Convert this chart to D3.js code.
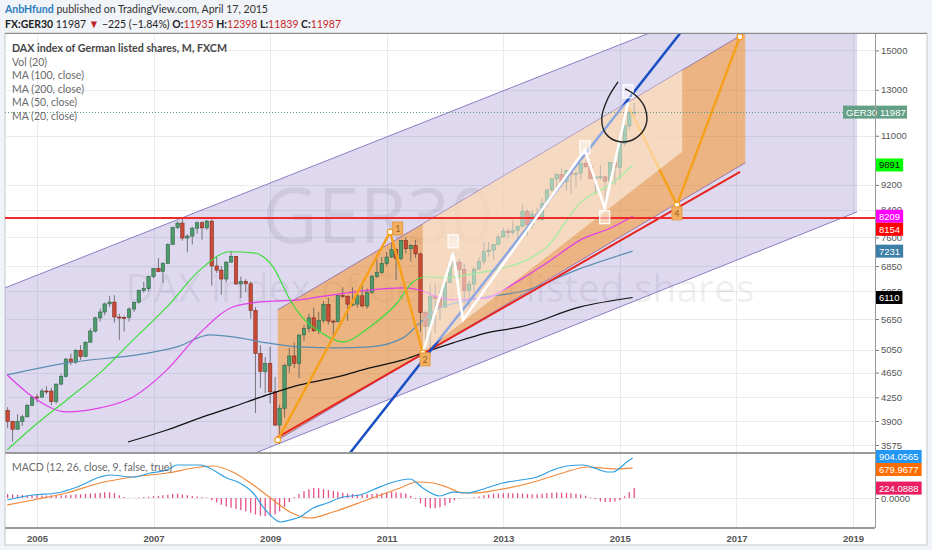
<!DOCTYPE html>
<html>
<head>
<meta charset="utf-8">
<script src="https://cdn.jsdelivr.net/npm/d3@7"></script>
<style>
  body { margin: 0; background: #f0f3f7; }
  svg { display: block; font-family: Lato, "Open Sans", sans-serif; }
</style>
</head>
<body>
<svg id="chart" width="932" height="550"></svg>
<script>

// monthly candles, first one is July 2004
const firstMonth = [2004, 6];

const opens = [
  4052, 3895, 3785, 3893, 3960, 4126,
  4256, 4254, 4350, 4349, 4184, 4460, 4586, 4886, 4829, 5044, 4929, 5193,
  5408, 5674, 5796, 5970, 6009, 5692, 5683, 5681, 5859, 6004, 6269, 6309,
  6597, 6789, 6716, 6917, 7409, 7883, 8007, 7584, 7638, 7862, 8019, 7871,
  8067, 6852, 6748, 6535, 6949, 7097, 6418, 6479, 6422, 5831, 4988, 4669,
  4810, 4338, 3843, 4085, 4770, 4941, 4809, 5332, 5458, 5675, 5415, 5625,
  5957, 5608, 5598, 6154, 6136, 5964, 5966, 6148, 5925, 6229, 6601, 6688,
  6914, 7077, 7272, 7041, 7514, 7294, 7376, 7159, 5785, 5502, 6141, 6089,
  5898, 6458, 6856, 6947, 6761, 6264, 6416, 6772, 6970, 7216, 7260, 7405,
  7612, 7776, 7742, 7795, 7914, 8349, 7959, 8276, 8103, 8594, 9033, 9406,
  9552, 9306, 9692, 9556, 9603, 9943, 9833, 9407, 9470, 9474, 9327, 9980,
  9806, 10694, 11402, 11935
];
const highs = [
  4102, 3905, 4000, 3990, 4150, 4272,
  4300, 4390, 4430, 4400, 4470, 4630, 4900, 4980, 5060, 5140, 5210, 5460,
  5700, 5870, 6000, 6150, 6160, 5760, 5720, 5900, 6020, 6290, 6470, 6620,
  6800, 7050, 6950, 7440, 7900, 8060, 8150, 7690, 7900, 8050, 8060, 8100,
  8110, 7090, 6850, 6960, 7230, 7110, 6590, 6530, 6480, 5900, 5140, 4920,
  5110, 4580, 4140, 4800, 5090, 5190, 5330, 5530, 5760, 5890, 5800, 6030,
  6100, 5640, 6170, 6340, 6160, 6340, 6230, 6390, 6310, 6640, 7030, 7080,
  7210, 7440, 7300, 7530, 7600, 7420, 7530, 7190, 5830, 6400, 6430, 6280,
  6540, 6940, 7190, 7020, 6900, 6500, 6820, 7080, 7480, 7480, 7410, 7680,
  7870, 7860, 8080, 7940, 8560, 8420, 8400, 8470, 8770, 9050, 9410, 9600,
  9800, 9720, 9750, 9640, 9960, 10050, 10030, 9480, 9890, 9520, 10000, 10090,
  10810, 11420, 12220, 12398
];
const lows = [
  3800, 3618, 3785, 3830, 3950, 4120,
  4170, 4250, 4300, 4130, 4150, 4440, 4570, 4780, 4800, 4870, 4920, 5190,
  5380, 5600, 5730, 5900, 5580, 5240, 5400, 5600, 5800, 5980, 6220, 6250,
  6550, 6700, 6440, 6900, 7400, 7830, 7510, 7200, 7410, 7700, 7540, 7810,
  6380, 6680, 6170, 6460, 6930, 6400, 6100, 6230, 5660, 4015, 4400, 4320,
  4160, 3830, 3589, 3950, 4640, 4730, 4560, 5220, 5380, 5390, 5350, 5570,
  5540, 5300, 5580, 6100, 5610, 5920, 5890, 5900, 5870, 6190, 6560, 6660,
  6850, 7050, 6510, 6990, 7170, 6960, 7060, 5400, 4960, 4970, 5370, 5620,
  5900, 6450, 6790, 6540, 5990, 5910, 6240, 6760, 6880, 7090, 7010, 7400,
  7600, 7580, 7660, 7420, 7900, 7650, 7860, 8100, 8100, 8480, 8970, 9120,
  9260, 9020, 8910, 9120, 9380, 9770, 9400, 8900, 9370, 8350, 9220, 9220,
  9380, 10590, 11250, 11839
];
const closes = [
  3895, 3785, 3893, 3960, 4126, 4256,
  4254, 4350, 4349, 4184, 4460, 4586, 4886, 4829, 5044, 4929, 5193, 5408,
  5674, 5796, 5970, 6009, 5692, 5683, 5681, 5859, 6004, 6269, 6309, 6597,
  6789, 6716, 6917, 7409, 7883, 8007, 7584, 7638, 7862, 8019, 7871, 8067,
  6852, 6748, 6535, 6949, 7097, 6418, 6479, 6422, 5831, 4988, 4669, 4810,
  4338, 3843, 4085, 4770, 4941, 4809, 5332, 5458, 5675, 5415, 5625, 5957,
  5608, 5598, 6154, 6136, 5964, 5966, 6148, 5925, 6229, 6601, 6688, 6914,
  7077, 7272, 7041, 7514, 7294, 7376, 7159, 5785, 5502, 6141, 6089, 5898,
  6458, 6856, 6947, 6761, 6264, 6416, 6772, 6970, 7216, 7260, 7405, 7612,
  7776, 7742, 7795, 7914, 8349, 7959, 8276, 8103, 8594, 9033, 9406, 9552,
  9306, 9692, 9556, 9603, 9943, 9833, 9407, 9470, 9474, 9327, 9980, 9806,
  10694, 11402, 11966, 11987
];

// moving averages, [decimal year, price]
const ma20 = [[2004.49,3511],[2004.93,3817],[2005.51,4211],[2006.08,4645],[2006.65,5237],[2007.23,5904],
  [2007.80,6755],[2008.31,7215],[2008.71,7188],[2009.05,6830],[2009.34,6059],[2009.56,5674],[2009.86,5391],
  [2010.25,5199],[2010.71,5490],[2011.18,5989],[2011.45,6466],[2011.69,6589],[2012.03,6565],[2012.43,6647],
  [2012.99,6804],[2013.29,6930],[2013.75,7345],[2014.32,8619],[2014.88,9270],[2015.22,9891]];
const ma50 = [[2004.49,4611],[2004.93,4257],[2005.51,4031],[2006.08,4090],[2006.65,4257],[2007.23,4696],
  [2007.80,5373],[2008.36,5904],[2008.83,6013],[2009.51,6059],[2009.86,6128],[2010.71,6278],[2011.28,6326],
  [2011.57,6278],[2011.86,6128],[2012.14,6059],[2012.72,6100],[2012.99,6278],[2013.29,6514],[2013.75,6930],
  [2014.32,7527],[2014.88,7895],[2015.22,8209]];
const ma100 = [[2004.49,4611],[2005.51,4817],[2006.82,4977],[2007.40,5106],[2007.97,5333],[2008.36,5295],
  [2008.95,5181],[2009.51,5106],[2010.15,5087],[2010.71,5106],[2011.28,5276],[2011.57,5571],[2011.86,5843],
  [2012.43,6059],[2013.41,6278],[2014.26,6755],[2015.22,7231]];
const ma200 = [[2006.56,3614],[2007.23,3775],[2007.80,3944],[2008.36,4105],[2008.95,4288],[2009.51,4447],
  [2010.15,4578],[2010.71,4730],[2011.28,4870],[2011.62,4995],[2012.14,5181],[2012.72,5373],[2013.29,5490],
  [2014.32,5904],[2015.22,6110]];

// MACD (12, 26, 9)
const macdLine = [[2004.49,-45],[2004.93,68],[2005.34,113],[2005.69,248],[2006.08,474],[2006.25,519],
  [2006.65,474],[2006.94,564],[2007.23,632],[2007.40,745],[2007.80,745],[2007.92,700],[2008.26,451],
  [2008.48,339],[2008.71,113],[2008.88,-203],[2009.00,-384],[2009.17,-542],[2009.34,-497],[2009.51,-429],
  [2009.74,-226],[2009.98,-113],[2010.25,23],[2010.54,68],[2010.76,181],[2011.06,339],[2011.40,429],
  [2011.62,226],[2011.91,45],[2012.14,135],[2012.38,113],[2012.60,181],[2012.99,339],[2013.29,406],
  [2013.58,474],[2013.85,632],[2014.09,722],[2014.37,745],[2014.61,655],[2014.78,587],[2014.88,587],
  [2015.00,677],[2015.12,813],[2015.22,904.0565]];
const signalLine = [[2004.49,-158],[2004.93,-45],[2005.51,113],[2006.08,339],[2006.65,474],[2007.23,564],
  [2007.80,700],[2008.02,722],[2008.36,587],[2008.71,293],[2009.05,-45],[2009.34,-316],[2009.68,-451],
  [2010.08,-316],[2010.66,-45],[2011.23,226],[2011.52,361],[2011.79,339],[2012.03,248],[2012.31,113],
  [2012.48,113],[2012.89,181],[2013.46,339],[2014.02,564],[2014.44,700],[2014.71,677],[2014.95,655],
  [2015.22,679.9677]];
// histogram, one bar per candle month
const macdHist = [
  90, 80, 75, 70, 65, 60,
  60, 55, 55, 60, 60, 65, 70, 75, 80, 85, 95, 100,
  110, 120, 130, 130, 110, 60, 20, 5, 5, 10, 20, 30,
  40, 50, 60, 75, 90, 100, 80, 60, 45, 35, 25, 10,
  -50, -100, -150, -190, -220, -250, -270, -300, -330, -370, -400, -410,
  -400, -370, -300, -200, -90, 20, 90, 150, 200, 225, 220, 200,
  180, 160, 140, 120, 100, 90, 80, 80, 85, 90, 100, 110,
  125, 135, 130, 120, 100, 50, -20, -120, -200, -230, -230, -210,
  -170, -110, -50, -15, 0, 5, 15, 35, 60, 80, 95, 100,
  105, 110, 110, 105, 100, 90, 85, 85, 95, 110, 120, 125,
  120, 115, 105, 95, 80, 50, 15, -30, -75, -90, -90, -80,
  -50, 40, 130, 224.0888
];

// drawings on the chart, [decimal year, price]
const purpleUpper = [[2004.45,6327],[2019.07,21536]];
const purpleLower = [[2004.45,2410],[2019.07,8341]];
const orangeUpper = [[2009.13,5843],[2017.15,15995]];
const orangeLower = [[2009.13,3641],[2017.15,9969]];
const creamZone = [[2011.62,4995],[2011.62,7984],[2016.07,13975],[2016.07,10375]];
const redLevel = 8154;
const redTrend = [[2009.11,3667],[2017.06,9648]];
const blueTrend = [[2010.20,3316],[2016.20,16690]];
const orangeWaveA = [[2009.13,3641],[2011.06,7753],[2011.62,4995]];
const orangeWaveB = [[2015.16,12176],[2015.98,8557],[2017.06,15763]];
const whiteWave = [[2011.62,4995],[2012.14,7188],[2012.31,5633],[2014.40,10452],[2014.74,8463],[2015.14,12399]];
const orangeLabels = [["1",2011.19,7839],["2",2011.66,4870],["4",2015.98,8281]];
const whiteLabels = [[2012.14,7481],[2014.40,10528],[2014.74,8166],[2015.14,12904]];
const circleSketch = [[2014.97,13383],[2014.80,12627],[2014.69,11738],[2014.76,11079],[2015.00,10761],
  [2015.28,10918],[2015.45,11446],[2015.43,12176],[2015.28,12720],[2015.09,13043]];

// axes
const priceTicks = [3575, 3900, 4250, 4650, 5050, 5650, 6250, 6850, 7600, 8400, 9200, 11000, 13000, 15000];
const yearTicks = [2005, 2007, 2009, 2011, 2013, 2015, 2017, 2019];
const lastPrice = 11987;
const maBadges = [9891, 8209, 8154, 7231, 6110];
const maBadgeColors = ["#00ff00", "#ff00ff", "#ff0000", "#3b7ea8", "#000000"];
const maBadgeText = ["#111", "#fff", "#fff", "#fff", "#fff"];
const macdBadges = [904.0565, 679.9677, 224.0888];
const macdBadgeColors = ["#2196f3", "#ff6d00", "#e91e63"];

const legendLines = ["DAX index of German listed shares, M, FXCM", "Vol (20)", "MA (100, close)",
  "MA (200, close)", "MA (50, close)", "MA (20, close)"];
const legendWidths = [215, 35, 72, 72, 65, 65];


class GerChart {

  constructor(parentElement) {
    this.parentElement = parentElement;
  }

  initVis() {
    let vis = this;

    vis.pane = {left: 5, right: 875, top: 33, bottom: 453, macdBottom: 528, frameRight: 927, frameBottom: 545};
    vis.svg = d3.select("#" + vis.parentElement);

    vis.x = d3.scaleTime().domain([new Date(2005, 0, 1), new Date(2019, 0, 1)]).range([37, 853]);
    vis.y = d3.scaleLog().domain([3472, 15980]).range([vis.pane.bottom, vis.pane.top]);
    vis.ym = d3.scaleLinear().domain([-677, 1016]).range([vis.pane.macdBottom, vis.pane.bottom]);

    vis.pt = p => [vis.x(yearToDate(p[0])), vis.y(p[1])];
    vis.candles = closes.map((c, i) => ({
      date: new Date(firstMonth[0], firstMonth[1] + i, 1),
      o: opens[i], h: highs[i], l: lows[i], c: c, hist: macdHist[i]
    }));

    let defs = vis.svg.append("defs");
    defs.append("clipPath").attr("id", "clip-main").append("rect")
      .attr("x", vis.pane.left).attr("y", vis.pane.top)
      .attr("width", vis.pane.right - vis.pane.left).attr("height", vis.pane.bottom - vis.pane.top);
    defs.append("clipPath").attr("id", "clip-macd").append("rect")
      .attr("x", vis.pane.left).attr("y", vis.pane.bottom)
      .attr("width", vis.pane.right - vis.pane.left).attr("height", vis.pane.macdBottom - vis.pane.bottom);

    vis.drawFrame();
    vis.drawMain();
    vis.drawMacd();
    vis.drawAxes();
    vis.drawHeader();
  }

  drawFrame() {
    let vis = this;
    let p = vis.pane;

    vis.svg.append("rect")
      .attr("x", p.left).attr("y", p.top)
      .attr("width", p.frameRight - p.left).attr("height", p.frameBottom - p.top)
      .attr("fill", "#fff").attr("stroke", "#c4c8cc");

    // grid
    let grid = vis.svg.append("g").attr("stroke", "#e9ebee").attr("stroke-width", 1);
    grid.selectAll(".hg").data(priceTicks).enter().append("line")
      .attr("x1", p.left).attr("x2", p.right)
      .attr("y1", d => Math.round(vis.y(d)) + 0.5).attr("y2", d => Math.round(vis.y(d)) + 0.5);
    grid.selectAll(".vg").data(yearTicks).enter().append("line")
      .attr("y1", p.top).attr("y2", p.macdBottom)
      .attr("x1", d => Math.round(vis.x(new Date(d, 0, 1))) + 0.5)
      .attr("x2", d => Math.round(vis.x(new Date(d, 0, 1))) + 0.5);
    grid.append("line")
      .attr("x1", p.left).attr("x2", p.right)
      .attr("y1", Math.round(vis.ym(0)) + 0.5).attr("y2", Math.round(vis.ym(0)) + 0.5);
  }

  drawMain() {
    let vis = this;
    let g = vis.svg.append("g").attr("clip-path", "url(#clip-main)");
    let lineGen = d3.line();
    let poly = (up, low) => lineGen(up.map(vis.pt).concat(low.slice().reverse().map(vis.pt))) + "Z";

    // watermark
    g.append("text").text("GER30")
      .attr("x", 378).attr("y", 243).attr("text-anchor", "middle")
      .attr("font-family", "Open Sans").attr("font-size", 76)
      .attr("fill", "#000").attr("fill-opacity", 0.08);
    g.append("text").text("DAX index of German listed shares")
      .attr("x", 440).attr("y", 302).attr("text-anchor", "middle")
      .attr("font-family", "Open Sans").attr("font-size", 39)
      .attr("fill", "#000").attr("fill-opacity", 0.08);

    // purple channel
    g.append("path").attr("d", poly(purpleUpper, purpleLower))
      .attr("fill", "rgb(103,80,180)").attr("fill-opacity", 0.22);
    [purpleUpper, purpleLower].forEach(l => {
      g.append("path").attr("d", lineGen(l.map(vis.pt)))
        .attr("fill", "none").attr("stroke", "#8d7cc4").attr("stroke-width", 1);
    });

    // orange channel
    g.append("path").attr("d", poly(orangeUpper, orangeLower))
      .attr("fill", "rgb(245,150,40)").attr("fill-opacity", 0.55);
    [orangeUpper, orangeLower].forEach(l => {
      g.append("path").attr("d", lineGen(l.map(vis.pt)))
        .attr("fill", "none").attr("stroke", "#9a78a8").attr("stroke-width", 1);
    });

    // candles
    let cw = 3.4;
    let cg = g.append("g");
    cg.selectAll(".wick").data(vis.candles).enter().append("line")
      .attr("x1", d => vis.x(d.date)).attr("x2", d => vis.x(d.date))
      .attr("y1", d => vis.y(d.h)).attr("y2", d => vis.y(d.l))
      .attr("stroke", "#5a5a5a").attr("stroke-width", 0.8);
    cg.selectAll(".body").data(vis.candles).enter().append("rect")
      .attr("x", d => vis.x(d.date) - cw / 2)
      .attr("width", cw)
      .attr("y", d => vis.y(Math.max(d.o, d.c)))
      .attr("height", d => Math.max(1, Math.abs(vis.y(d.o) - vis.y(d.c))))
      .attr("fill", d => d.c >= d.o ? "#4e9a6d" : "#cc4b36")
      .attr("stroke", d => d.c >= d.o ? "#2f6647" : "#7d2c1f")
      .attr("stroke-width", 0.6);

    // moving averages
    let maLine = d3.line().x(d => vis.x(yearToDate(d[0]))).y(d => vis.y(d[1])).curve(d3.curveMonotoneX);
    [[ma200, "#111111"], [ma100, "#5b8db0"], [ma50, "#e23ee8"], [ma20, "#3ddc3d"]].forEach(m => {
      g.append("path").attr("d", maLine(m[0]))
        .attr("fill", "none").attr("stroke", m[1]).attr("stroke-width", 1.2);
    });

    // trend lines and waves
    g.append("path").attr("d", lineGen(redTrend.map(vis.pt)))
      .attr("stroke", "#e8231f").attr("stroke-width", 2).attr("fill", "none");
    g.append("path").attr("d", lineGen(blueTrend.map(vis.pt)))
      .attr("stroke", "#1a4fc4").attr("stroke-width", 2.5).attr("fill", "none");
    [orangeWaveA, orangeWaveB].forEach(w => {
      g.append("path").attr("d", lineGen(w.map(vis.pt)))
        .attr("stroke", "#f7a01c").attr("stroke-width", 2.5).attr("fill", "none");
    });

    // light zone over wave 3
    g.append("path").attr("d", lineGen(creamZone.map(vis.pt)) + "Z")
      .attr("fill", "#fff").attr("fill-opacity", 0.5);

    g.append("line")
      .attr("x1", vis.pane.left).attr("x2", vis.pane.right)
      .attr("y1", vis.y(redLevel)).attr("y2", vis.y(redLevel))
      .attr("stroke", "#ee2a2a").attr("stroke-width", 2);

    g.append("line")
      .attr("x1", vis.pane.left).attr("x2", vis.pane.right)
      .attr("y1", Math.round(vis.y(lastPrice)) + 0.5).attr("y2", Math.round(vis.y(lastPrice)) + 0.5)
      .attr("stroke", "#5e9c86").attr("stroke-dasharray", "1,2");

    g.append("path").attr("d", lineGen(whiteWave.map(vis.pt)))
      .attr("stroke", "#ffffff").attr("stroke-width", 2.5).attr("fill", "none");

    // wave dots
    g.selectAll(".dot").data(orangeWaveA.concat(orangeWaveB.slice(1))).enter().append("circle")
      .attr("cx", d => vis.pt(d)[0]).attr("cy", d => vis.pt(d)[1]).attr("r", 2.8)
      .attr("fill", "#fff").attr("stroke", "#f7a01c").attr("stroke-width", 1.2);

    // wave label boxes
    g.selectAll(".wl").data(whiteLabels).enter().append("rect")
      .attr("x", d => vis.pt(d)[0] - 5).attr("y", d => vis.pt(d)[1] - 7)
      .attr("width", 10).attr("height", 13)
      .attr("fill", "#fff").attr("fill-opacity", 0.45)
      .attr("stroke", "#fff").attr("stroke-width", 1.2);
    let ol = g.selectAll(".ol").data(orangeLabels).enter().append("g")
      .attr("transform", d => `translate(${vis.pt([d[1], d[2]])})`);
    ol.append("rect").attr("x", -5).attr("y", -7).attr("width", 10).attr("height", 13)
      .attr("fill", "#f2b060").attr("stroke", "#e59a45").attr("stroke-width", 1);
    ol.append("text").text(d => d[0]).attr("text-anchor", "middle").attr("y", 3.5)
      .attr("font-size", 9).attr("fill", "#9a5d22");

    // hand drawn circle
    g.append("path")
      .attr("d", d3.line().curve(d3.curveCatmullRom)(circleSketch.map(vis.pt)))
      .attr("fill", "none").attr("stroke", "#222").attr("stroke-width", 1.4);

    // legend
    let lg = vis.svg.append("g").attr("font-size", 10.5);
    lg.selectAll("text").data(legendLines).enter().append("text")
      .text(d => d)
      .attr("x", 12).attr("y", (d, i) => 52 + i * 13.6)
      .attr("textLength", (d, i) => legendWidths[i]).attr("lengthAdjust", "spacingAndGlyphs")
      .attr("fill", (d, i) => i === 0 ? "#474747" : "#6a6a6a")
      .attr("font-weight", (d, i) => i === 0 ? 700 : 400);
  }

  drawMacd() {
    let vis = this;
    let g = vis.svg.append("g").attr("clip-path", "url(#clip-macd)");

    g.selectAll(".hist").data(vis.candles).enter().append("line")
      .attr("x1", d => vis.x(d.date)).attr("x2", d => vis.x(d.date))
      .attr("y1", vis.ym(0)).attr("y2", d => vis.ym(d.hist))
      .attr("stroke", "#e4508a").attr("stroke-width", 1.3);

    let ml = d3.line().x(d => vis.x(yearToDate(d[0]))).y(d => vis.ym(d[1])).curve(d3.curveMonotoneX);
    g.append("path").attr("d", ml(signalLine))
      .attr("fill", "none").attr("stroke", "#f08a3c").attr("stroke-width", 1.2);
    g.append("path").attr("d", ml(macdLine))
      .attr("fill", "none").attr("stroke", "#2f9fe2").attr("stroke-width", 1.2);

    vis.svg.append("text").text("MACD (12, 26, close, 9, false, true)")
      .attr("x", 12).attr("y", 471).attr("font-size", 10.5).attr("fill", "#6a6a6a")
      .attr("textLength", 160).attr("lengthAdjust", "spacingAndGlyphs");
  }

  drawAxes() {
    let vis = this;
    let p = vis.pane;

    let yAxis = d3.axisRight(vis.y).tickValues(priceTicks).tickFormat(d3.format("d")).tickSize(4).tickPadding(2);
    vis.svg.append("g").attr("transform", `translate(${p.right},0)`)
      .call(yAxis)
      .call(a => a.select(".domain").remove())
      .call(a => a.selectAll("line").attr("stroke", "#777"))
      .call(a => a.selectAll("text").attr("fill", "#555").attr("font-size", 9.5)
        .attr("font-family", "Liberation Sans"));

    let mAxis = d3.axisRight(vis.ym).tickValues([0]).tickFormat(d3.format(".4f")).tickSize(4).tickPadding(2);
    vis.svg.append("g").attr("transform", `translate(${p.right},0)`)
      .call(mAxis)
      .call(a => a.select(".domain").remove())
      .call(a => a.selectAll("line").attr("stroke", "#777"))
      .call(a => a.selectAll("text").attr("fill", "#555").attr("font-size", 9.5)
        .attr("font-family", "Liberation Sans"));

    let xAxis = d3.axisBottom(vis.x).tickValues(yearTicks.map(d => new Date(d, 0, 1)))
      .tickFormat(d3.timeFormat("%Y")).tickSize(0).tickPadding(7);
    vis.svg.append("g").attr("transform", `translate(0,${p.macdBottom})`)
      .call(xAxis)
      .call(a => a.select(".domain").remove())
      .call(a => a.selectAll("text").attr("fill", "#555").attr("font-size", 9.5)
        .attr("font-weight", 700).attr("font-family", "Liberation Sans"));

    // price badge of the symbol
    let yl = vis.y(lastPrice);
    vis.svg.append("rect").attr("x", 843).attr("y", yl - 6.5).attr("width", 64).attr("height", 13)
      .attr("fill", "#64a087");
    vis.svg.append("text").text("GER30").attr("x", 846).attr("y", yl + 3.5)
      .attr("font-size", 9.5).attr("fill", "#fff").attr("font-family", "Liberation Sans");
    vis.svg.append("text").text(lastPrice).attr("x", 880).attr("y", yl + 3.5)
      .attr("font-size", 9.5).attr("fill", "#fff").attr("font-family", "Liberation Sans");

    vis.badges(maBadges.map((v, i) => ({
      y: vis.y(v), label: v, color: maBadgeColors[i], text: maBadgeText[i]
    })));
    vis.badges(macdBadges.map((v, i) => ({
      y: vis.ym(v) - (i === 0 ? 1.5 : 0), label: d3.format(".4f")(v), color: macdBadgeColors[i], text: "#fff"
    })));

    // separators
    let sep = vis.svg.append("g").attr("stroke", "#9a9a9a");
    sep.append("line").attr("x1", p.right + 0.5).attr("x2", p.right + 0.5)
      .attr("y1", p.top).attr("y2", p.macdBottom);
    sep.append("line").attr("x1", p.left).attr("x2", p.right)
      .attr("y1", p.bottom).attr("y2", p.bottom).attr("stroke-width", 2);
    sep.append("line").attr("x1", p.left).attr("x2", p.right)
      .attr("y1", p.macdBottom).attr("y2", p.macdBottom).attr("stroke-width", 2);
    sep.append("line").attr("x1", p.left).attr("x2", p.frameRight)
      .attr("y1", p.top + 0.5).attr("y2", p.top + 0.5).attr("stroke", "#8a8a8a");
  }

  badges(list) {
    let vis = this;
    let h = 13, lastBottom = -Infinity;
    list.sort((a, b) => a.y - b.y).forEach(b => {
      let cy = Math.max(b.y, lastBottom + h / 2);
      lastBottom = cy + h / 2;
      let t = vis.svg.append("text").text(b.label)
        .attr("x", vis.pane.right + 4).attr("y", cy + 3.5)
        .attr("font-size", 9.5).attr("fill", b.text).attr("font-family", "Liberation Sans");
      let w = t.node().getComputedTextLength();
      vis.svg.insert("rect", () => t.node())
        .attr("x", vis.pane.right + 1).attr("y", cy - h / 2)
        .attr("width", w + 6).attr("height", h).attr("fill", b.color);
    });
  }

  drawHeader() {
    let vis = this;
    let t1 = vis.svg.append("text").attr("x", 5).attr("y", 13).attr("font-size", 11.5)
      .attr("textLength", 263).attr("lengthAdjust", "spacingAndGlyphs");
    t1.append("tspan").text("AnbHfund").attr("fill", "#2b7bbf").attr("font-weight", 700);
    t1.append("tspan").text(" published on TradingView.com, April 17, 2015").attr("fill", "#333");

    let t2 = vis.svg.append("text").attr("x", 5).attr("y", 28).attr("font-size", 11.5)
      .attr("textLength", 336).attr("lengthAdjust", "spacingAndGlyphs");
    let parts = [
      ["FX:GER30", "#222", 700], [" 11987 ", "#222", 400], ["▼", "#c0202a", 400],
      [" −225 (−1.84%) ", "#222", 400], ["O:", "#222", 700], ["11935", "#c62828", 400],
      [" H:", "#222", 700], ["12398", "#c62828", 400], [" L:", "#222", 700], ["11839", "#c62828", 400],
      [" C:", "#222", 700], ["11987", "#c62828", 400]
    ];
    parts.forEach(s => t2.append("tspan").text(s[0]).attr("fill", s[1]).attr("font-weight", s[2]));
  }
}

function yearToDate(t) {
  let y0 = Math.floor(t);
  let a = new Date(y0, 0, 1), b = new Date(y0 + 1, 0, 1);
  return new Date(a.getTime() + (t - y0) * (b - a));
}

let chart = new GerChart("chart");
chart.initVis();
</script>
</body>
</html>
